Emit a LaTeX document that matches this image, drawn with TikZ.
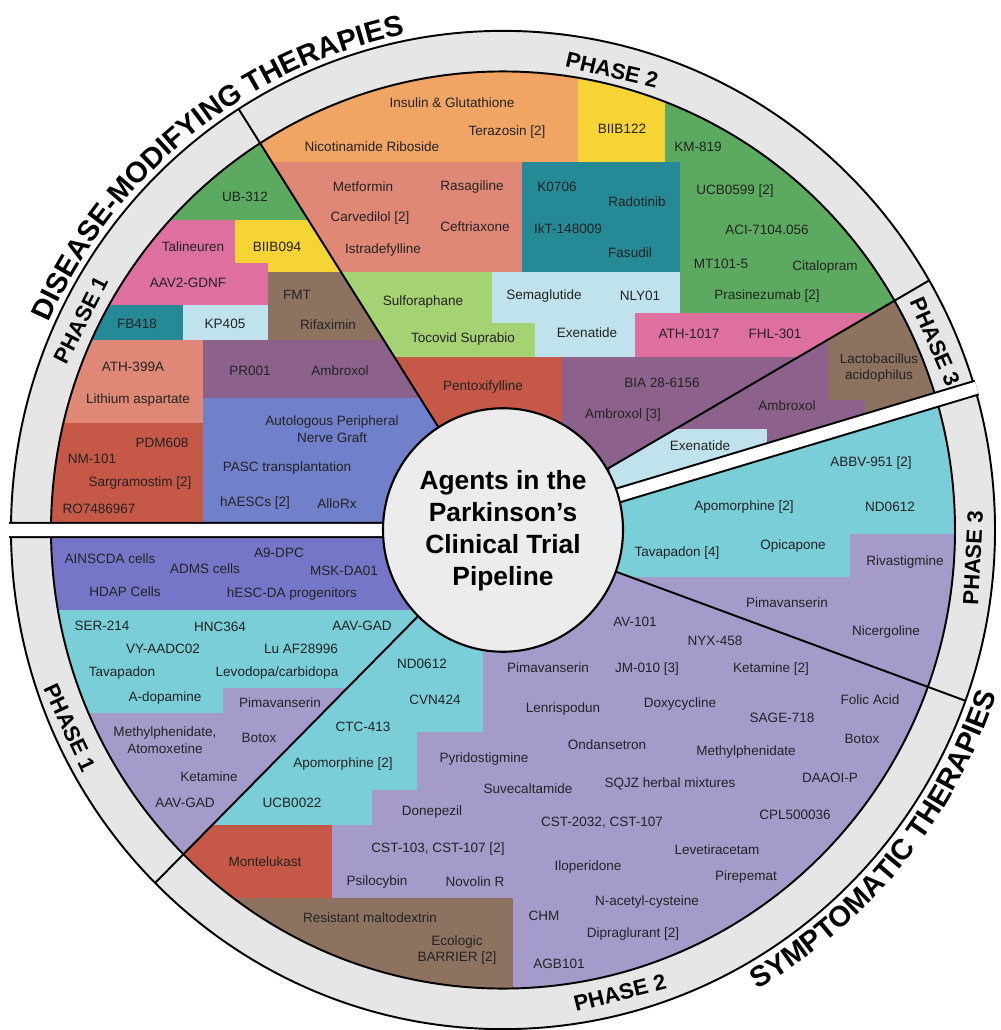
\documentclass[tikz,border=0pt]{standalone}
\usepackage{fontspec}
\setmainfont{Liberation Sans}
\usetikzlibrary{decorations.text}
\definecolor{ink}{RGB}{35,35,35}
\definecolor{rimgray}{RGB}{230,230,230}
\definecolor{hubgray}{RGB}{236,236,236}
\definecolor{leaf}{RGB}{92,170,96}
\definecolor{rose}{RGB}{222,112,160}
\definecolor{lemon}{RGB}{245,212,52}
\definecolor{bark}{RGB}{142,114,96}
\definecolor{petrol}{RGB}{38,138,150}
\definecolor{sky}{RGB}{192,226,236}
\definecolor{salmon}{RGB}{224,136,118}
\definecolor{plum}{RGB}{140,98,140}
\definecolor{rust}{RGB}{198,88,72}
\definecolor{cobalt}{RGB}{112,128,202}
\definecolor{apricot}{RGB}{241,165,100}
\definecolor{sprout}{RGB}{165,210,115}
\definecolor{indigo}{RGB}{118,118,200}
\definecolor{aqua}{RGB}{122,206,216}
\definecolor{lilac}{RGB}{165,155,202}
\newcommand\titlefont{\fontsize{16.5}{18}\selectfont\bfseries}
\tikzset{
  wheel/.style={shift={(503,530)},y=0.0203cm},
  rim/.style={draw=black,line width=1.1pt},
  lbl/.style={font=\fontsize{7.7}{9.4}\selectfont,text=ink,align=center,inner sep=0pt},
  phaselbl/.style={font=\fontsize{12.5}{14}\selectfont\bfseries,text=black,inner sep=0pt},
  hubtxt/.style={font=\fontsize{15}{18.2}\selectfont\bfseries,text=black,align=center},
}
% one wedge of the wheel, filled with coloured blocks
\newcommand\piewedge[3]{%
  \begin{scope}
    \clip[wheel] (0,0) -- (#1:452) arc[start angle=#1,end angle=#2,radius=452] -- cycle;
    \foreach \c/\xa/\ya/\xb/\yb in {#3} \fill[\c] (\xa,\ya) rectangle (\xb,\yb);
  \end{scope}}

\begin{document}
\begin{tikzpicture}[x=0.02cm,y=-0.02cm]
  \useasboundingbox (0,0) rectangle (1000,1030);

  % disease-modifying half
  \piewedge{122.5}{180}{leaf/0/0/520/220, rose/0/220/235/263, lemon/235/220/520/263,
    rose/0/263/268/305, lemon/268/263/520/272, bark/268/272/520/340,
    petrol/0/305/183/340, sky/183/305/268/340, salmon/0/340/203/423,
    plum/203/340/520/398, rust/0/423/203/540, cobalt/203/398/520/540}
  \piewedge{30}{122.5}{apricot/200/0/578/162, lemon/578/0/665/162, leaf/665/0/1000/313,
    salmon/200/162/522/272, petrol/522/162/680/272, sprout/200/272/492/357,
    sky/492/272/680/313, sky/492/313/635/357, sprout/492/323/535/357,
    rose/635/313/1000/357, rust/200/357/562/540, plum/562/357/1000/540}
  \piewedge{16.5}{30}{plum/600/250/1000/540, bark/828/250/1000/400,
    bark/865/250/1000/540, sky/610/429/767/540}

  % symptomatic half
  \piewedge{180}{225}{lilac/0/520/520/1000, indigo/0/520/520/610, aqua/0/610/520/688,
    aqua/0/688/223/713}
  \piewedge{225}{340}{lilac/0/520/1000/1030, aqua/0/520/483/732, aqua/0/732/417/790,
    aqua/0/790/372/825, rust/0/825/332/898, bark/0/898/513/1030}
  \piewedge{340}{376.5}{lilac/600/380/1000/700, aqua/600/380/850/577, aqua/850/380/1000/534}

  % outer ring and spokes
  \fill[wheel,rimgray,even odd rule] (0,0) circle (492) (0,0) circle (452);
  \draw[wheel,rim] (0,0) circle (452) (0,0) circle (492);
  \foreach \a in {30,122.5,225,340} \draw[wheel,rim] (\a:118) -- (\a:492);

  % gaps between the two halves
  \begin{scope}
    \clip[wheel] (0,0) circle (494);
    \draw[wheel,line width=9.2pt] (0,0) -- (180:520) (0,0) -- (16.5:520);
    \draw[wheel,white,line width=6.9pt] (0,0) -- (180:520) (0,0) -- (16.5:520);
  \end{scope}

  % hub
  \draw[wheel,fill=hubgray,line width=1.2pt] (0,0) circle (120);
  \node[hubtxt] (hub) at (503,531) {Agents in the\\Parkinson’s\\Clinical Trial\\Pipeline};

  \foreach \x/\y/\t [count=\k] in {245/197/UB-312, 193/247/Talineuren, 277/247/BIIB094,
    188/283/AAV2-GDNF, 297/295/FMT, 328/325/Rifaximin, 137/324/FB418, 225/324/KP405,
    133/367/ATH-399A, 138/400/Lithium aspartate, 250/371/PR001, 340/371/Ambroxol,
    332/429/{Autologous Peripheral\\Nerve Graft}, 287/468/PASC transplantation,
    255/503/hAESCs [2], 337/504/AlloRx, 162/443/PDM608, 92/459/NM-101,
    140/483/Sargramostim [2], 99/509/RO7486967}
    \node[lbl] (dm1-\k) at (\x,\y) {\t};

  \foreach \x/\y/\t [count=\k] in {452/103/Insulin \& Glutathione, 507/132/Terazosin [2],
    372/147/Nicotinamide Riboside, 622/129/BIIB122, 698/147/KM-819, 363/187/Metformin,
    472/187/Rasagiline, 370/218/Carvedilol [2], 475/227/Ceftriaxone,
    383/250/Istradefylline, 557/187/K0706, 637/202/Radotinib, 568/229/IkT-148009,
    630/253/Fasudil, 735/191/UCB0599 [2], 767/230/ACI-7104.056, 721/264/MT101-5,
    825/267/Citalopram, 767/296/Prasinezumab [2], 423/302/Sulforaphane,
    544/296/Semaglutide, 640/296/NLY01, 463/339/Tocovid Suprabio, 587/333/Exenatide,
    689/334/ATH-1017, 775/334/FHL-301, 483/387/Pentoxifylline, 662/383/BIA 28-6156,
    623/415/Ambroxol [3]}
    \node[lbl] (dm2-\k) at (\x,\y) {\t};

  \foreach \x/\y/\t [count=\k] in {879/368/{Lactobacillus\\acidophilus},
    787/406/Ambroxol, 700/446/Exenatide}
    \node[lbl] (dm3-\k) at (\x,\y) {\t};

  \foreach \x/\y/\t [count=\k] in {110/559/AINSCDA cells, 205/569/ADMS cells,
    279/553/A9-DPC, 344/571/MSK-DA01, 125/592/HDAP Cells, 292/594/hESC-DA progenitors,
    102/626/SER-214, 220/627/HNC364, 362/626/AAV-GAD, 163/649/VY-AADC02,
    301/649/Lu AF28996, 122/673/Tavapadon, 277/673/{Levodopa/carbidopa},
    165/698/A-dopamine, 280/703/Pimavanserin, 165/740/{Methylphenidate,\\Atomoxetine},
    259/738/Botox, 209/777/Ketamine, 185/803/AAV-GAD}
    \node[lbl] (sy1-\k) at (\x,\y) {\t};

  \foreach \x/\y/\t [count=\k] in {422/664/ND0612, 435/700/CVN424, 363/727/CTC-413,
    343/764/Apomorphine [2], 292/803/UCB0022, 265/862/Montelukast,
    370/918/Resistant maltodextrin, 457/950/{Ecologic\\BARRIER [2]}, 635/622/AV-101,
    715/641/NYX-458, 548/668/Pimavanserin, 647/669/JM-010 [3], 771/669/Ketamine [2],
    563/709/Lenrispodun, 680/704/Doxycycline, 870/700/Folic Acid, 782/718/SAGE-718,
    862/739/Botox, 607/745/Ondansetron, 746/752/Methylphenidate, 484/759/Pyridostigmine,
    830/778/DAAOI-P, 528/789/Suvecaltamide, 670/784/SQJZ herbal mixtures,
    432/812/Donepezil, 602/823/{CST-2032, CST-107}, 795/815/CPL500036,
    438/849/{CST-103, CST-107 [2]}, 717/850/Levetiracetam, 588/867/Iloperidone,
    746/877/Pirepemat, 377/882/Psilocybin, 475/882/Novolin R,
    647/902/N-acetyl-cysteine, 544/916/CHM, 633/934/Dipraglurant [2], 559/964/AGB101}
    \node[lbl] (sy2-\k) at (\x,\y) {\t};

  \foreach \x/\y/\t [count=\k] in {871/463/ABBV-951 [2], 744/507/Apomorphine [2],
    890/507/ND0612, 677/553/Tavapadon [4], 793/546/Opicapone, 905/562/Rivastigmine,
    787/603/Pimavanserin, 886/632/Nicergoline}
    \node[lbl] (sy3-\k) at (\x,\y) {\t};

  % phase names on the ring
  \node[phaselbl,rotate=63] (ph-dm1) at (81,320) {PHASE 1};
  \node[phaselbl,rotate=-13] (ph-dm2) at (612,70) {PHASE 2};
  \node[phaselbl,rotate=-66.5] (ph-dm3) at (935,342) {PHASE 3};
  \node[phaselbl,rotate=-65] (ph-sy1) at (70,728) {PHASE 1};
  \node[phaselbl,rotate=14] (ph-sy2) at (620,993) {PHASE 2};
  \node[phaselbl,rotate=87] (ph-sy3) at (973,558) {PHASE 3};

  % titles round the rim
  \path[wheel,decorate,decoration={text along path,text align=center,
    text={|\titlefont|DISEASE-MODIFYING THERAPIES}}]
    (165:498) arc[start angle=165,end angle=92,radius=498];
  \path[wheel,decorate,decoration={text along path,text align=center,
    text={|\titlefont|SYMPTOMATIC THERAPIES}}]
    (-75:519) arc[start angle=-75,end angle=-4,radius=519];
\end{tikzpicture}
\end{document}
